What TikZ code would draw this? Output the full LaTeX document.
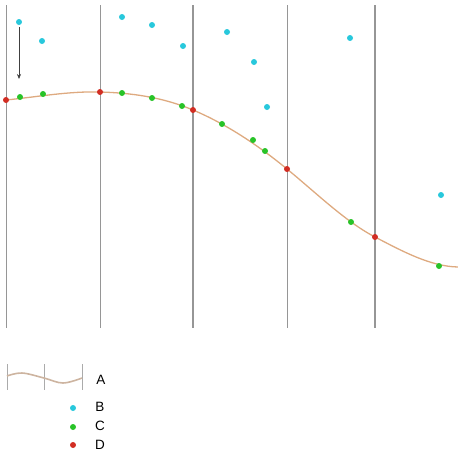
\documentclass[tikz,border=0pt]{standalone}
\usepackage{fontspec}
\setmainfont{Liberation Sans}
\usetikzlibrary{arrows.meta}
\definecolor{vline}{RGB}{150,150,150}
\definecolor{curvec}{RGB}{222,170,128}
\definecolor{legc}{RGB}{205,180,160}
\definecolor{cB}{RGB}{40,200,220}
\definecolor{cC}{RGB}{40,195,40}
\definecolor{cD}{RGB}{210,45,35}
\tikzset{
  wave/.style={draw=curvec,line width=1.3pt},
  ptB/.style={circle,fill=cB,inner sep=0pt,minimum size=6pt},
  ptC/.style={circle,fill=cC,inner sep=0pt,minimum size=6pt},
  ptD/.style={circle,fill=cD,inner sep=0pt,minimum size=6pt},
  lab/.style={font=\fontsize{13.5}{14}\selectfont,inner sep=0pt},
}
\begin{document}
\begin{tikzpicture}[x=1pt,y=-1pt]
\useasboundingbox (0,0) rectangle (458,458);
% vertical lines
\foreach \xx/\w in {6/1.0,100/0.9,193/1.3,287/0.9,375/1.4}{
  \draw[draw=vline,line width=\w pt] (\xx,5) -- (\xx,328);
}
% curve
\draw[wave] (6,100) .. controls (37.3,96.9) and (68.7,91.1) .. (100,92)
  .. controls (131,92.9) and (162,97) .. (193,110)
  .. controls (224.3,123.2) and (255.7,143.3) .. (287,169)
  .. controls (316.3,193) and (345.7,221.8) .. (375,237)
  .. controls (402.7,251.4) and (430.3,266.4) .. (458,267);
% arrow
\coordinate (at) at (19,27);
\coordinate (ab) at (19,79);
\draw[draw=black!75,line width=0.6pt,-{Stealth[length=5pt,width=4pt]}] (at) -- (ab);
% red points
\foreach \p [count=\i] in {(6,100),(100,92),(193,110),(287,169),(375,237)}
  \node[ptD] (d\i) at \p {};
% green points
\foreach \p [count=\i] in {(20,97),(43,94),(122,93),(152,98),(182,106),(222,124),(253,140),(265,151),(351,222),(439,266)}
  \node[ptC] (c\i) at \p {};
% cyan points
\foreach \p [count=\i] in {(19,22),(42,41),(122,17),(152,25),(183,46),(227,32),(254,62),(267,107),(350,38),(441,195)}
  \node[ptB] (b\i) at \p {};
% legend
\foreach \xx in {7,44,82} \draw[draw=vline!80,line width=1pt] (\xx,364) -- (\xx,390);
\draw[draw=legc,line width=1.6pt] plot[smooth,tension=0.6] coordinates {(7,376) (22,373) (44,378) (63,383) (82,378)};
\node[lab] (la) at (101,380) {A};
\node[ptB] (lb) at (73,408) {};
\node[ptC] (lc) at (73,427) {};
\node[ptD] (ld) at (73,445) {};
\node[lab] (tb) at (100,407) {B};
\node[lab] (tc) at (100,426) {C};
\node[lab] (td) at (100,445) {D};
\end{tikzpicture}
\end{document}
